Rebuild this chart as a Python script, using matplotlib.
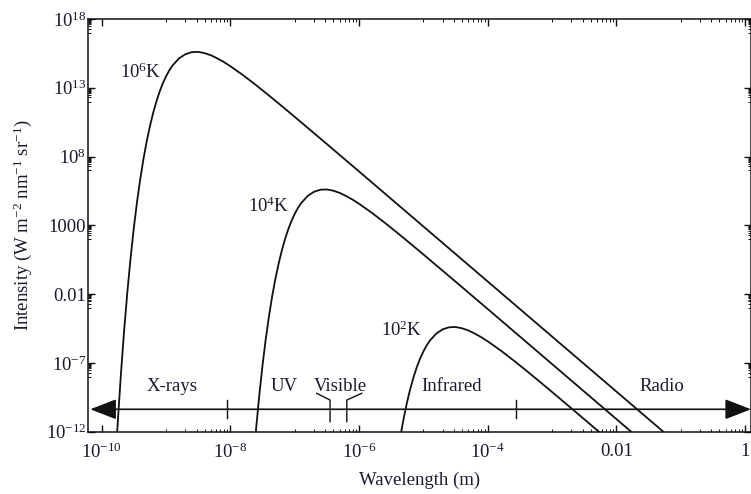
import numpy as np
import matplotlib
matplotlib.use('Agg')
import matplotlib.pyplot as plt

plt.rcParams['font.family'] = ['Liberation Serif', 'DejaVu Serif']
plt.rcParams['mathtext.fontset'] = 'custom'
plt.rcParams['mathtext.rm'] = 'Liberation Serif'
plt.rcParams['mathtext.it'] = 'Liberation Serif:italic'
plt.rcParams['mathtext.bf'] = 'Liberation Serif:bold'

TXT = '#1a1a2e'

# log10(wavelength in m) and log10(intensity)
wl_exp_1e6 = [-9.80, -9.75, -9.70, -9.65, -9.60, -9.55, -9.50, -9.45, -9.40, -9.35,
              -9.30, -9.25, -9.20, -9.15, -9.10, -9.05, -9.00, -8.95, -8.90, -8.80,
              -8.70, -8.60, -8.50, -8.40, -8.30, -8.20, -8.10, -8.00, -7.80, -7.60,
              -7.40, -7.20, -7.00, -6.50, -6.00, -5.00, -4.00, -3.00, -2.00, -1.00]
int_exp_1e6 = [-15.35, -11.31, -7.74, -4.59, -1.80, 0.66, 2.82, 4.72, 6.38, 7.84,
               9.11, 10.21, 11.17, 12.00, 12.71, 13.32, 13.83, 14.26, 14.61, 15.13,
               15.44, 15.59, 15.61, 15.52, 15.36, 15.13, 14.87, 14.57, 13.91, 13.19,
               12.44, 11.67, 10.89, 8.91, 6.92, 2.92, -1.08, -5.08, -9.08, -13.08]

wl_exp_1e4 = [-7.70, -7.65, -7.60, -7.55, -7.50, -7.45, -7.40, -7.35, -7.30, -7.25,
              -7.20, -7.15, -7.10, -7.05, -7.00, -6.95, -6.90, -6.80, -6.70, -6.60,
              -6.50, -6.40, -6.30, -6.20, -6.10, -6.00, -5.80, -5.60, -5.40, -5.20,
              -5.00, -4.50, -4.00, -3.00, -2.00, -1.00]
int_exp_1e4 = [-17.74, -14.59, -11.80, -9.34, -7.18, -5.28, -3.62, -2.16, -0.89, 0.21,
               1.17, 2.00, 2.71, 3.32, 3.83, 4.26, 4.61, 5.13, 5.44, 5.59,
               5.61, 5.52, 5.36, 5.13, 4.87, 4.57, 3.91, 3.19, 2.44, 1.67,
               0.89, -1.09, -3.08, -7.08, -11.08, -15.08]

wl_exp_1e2 = [-5.45, -5.40, -5.35, -5.30, -5.25, -5.20, -5.15, -5.10, -5.05, -5.00,
              -4.95, -4.90, -4.80, -4.70, -4.60, -4.50, -4.40, -4.30, -4.20, -4.10,
              -4.00, -3.80, -3.60, -3.40, -3.20, -3.00, -2.50, -2.00]
int_exp_1e2 = [-15.28, -13.62, -12.16, -10.89, -9.79, -8.83, -8.00, -7.29, -6.68, -6.17,
               -5.74, -5.39, -4.87, -4.56, -4.41, -4.39, -4.48, -4.64, -4.87, -5.13,
               -5.43, -6.09, -6.81, -7.56, -8.33, -9.11, -11.09, -13.08]

curve_labels = [r'$10^{6}$K', r'$10^{4}$K', r'$10^{2}$K']
curve_label_pos = [(-9.40, 14.16), (-7.41, 4.35), (-5.34, -4.61)]

x_tick_exp = [-10, -8, -6, -4, -2, 0]
x_tick_labels = [r'$10^{-10}$', r'$10^{-8}$', r'$10^{-6}$', r'$10^{-4}$', '0.01', '1']
y_tick_exp = [18, 13, 8, 3, -2, -7, -12]
y_tick_labels = [r'$10^{18}$', r'$10^{13}$', r'$10^{8}$', '1000', '0.01',
                 r'$10^{-7}$', r'$10^{-12}$']

# spectrum band annotation
band_names = ['X-rays', 'UV', 'Visible', 'Infrared', 'Radio']
band_label_exp = [-8.91, -7.17, -6.29, -4.56, -1.29]
band_edges_exp = [-8.05, -3.56]
visible_edges_exp = [-6.45, -6.19]
arrow_y_exp = -10.37

FS = 13.5

fig = plt.figure(figsize=(7.51, 4.94), dpi=100)
ax = fig.add_axes([88.3 / 751, 62.3 / 494, 662.7 / 751, 412.7 / 494])
ax.set_xscale('log')
ax.set_yscale('log')
ax.set_xlim(10 ** -10.208, 10 ** 0.093)
ax.set_ylim(1e-12, 1e18)

for wl, val in [(wl_exp_1e6, int_exp_1e6), (wl_exp_1e4, int_exp_1e4), (wl_exp_1e2, int_exp_1e2)]:
    ax.plot(np.power(10.0, wl), np.power(10.0, val), color='#111111', lw=1.3)

for lab, (lx, ly) in zip(curve_labels, curve_label_pos):
    ax.text(10 ** lx, 10 ** ly, lab, ha='center', va='center', fontsize=FS, color=TXT)

# ticks
ax.set_xticks([10.0 ** e for e in x_tick_exp])
ax.set_xticklabels(x_tick_labels)
ax.set_yticks([10.0 ** e for e in y_tick_exp])
ax.set_yticklabels(y_tick_labels)
x_minor = [m * 10.0 ** (e - 1) for e in x_tick_exp[1:] for m in range(1, 10)]
y_minor = [m * 10.0 ** (e - 1) for e in y_tick_exp[:-1] for m in range(1, 10)]
ax.xaxis.set_minor_locator(matplotlib.ticker.FixedLocator(x_minor))
ax.yaxis.set_minor_locator(matplotlib.ticker.FixedLocator(y_minor))
ax.xaxis.set_minor_formatter(matplotlib.ticker.NullFormatter())
ax.yaxis.set_minor_formatter(matplotlib.ticker.NullFormatter())
ax.tick_params(which='both', direction='in', top=True, right=True, colors='#111111',
               labelcolor=TXT, labelsize=FS)
ax.tick_params(which='major', length=5, width=1.0)
ax.tick_params(which='minor', length=2, width=0.7)
ax.tick_params(axis='x', which='major', pad=8)
ax.tick_params(axis='y', which='major', pad=1.5)
for sp in ax.spines.values():
    sp.set_linewidth(1.1)
    sp.set_color('#111111')

ax.set_xlabel('Wavelength (m)', fontsize=FS, color=TXT, labelpad=7)
ax.set_ylabel(r'Intensity (W m$^{-2}$ nm$^{-1}$ sr$^{-1}$)', fontsize=FS, color=TXT, labelpad=8)

# double-headed band arrow
ay = 10 ** arrow_y_exp
ax.annotate('', xy=(0.003, ay), xytext=(1.0, ay),
            xycoords=('axes fraction', 'data'), textcoords=('axes fraction', 'data'),
            arrowprops=dict(arrowstyle='<|-|>,head_length=0.9,head_width=0.35',
                            mutation_scale=18, lw=1.2, color='#111111',
                            shrinkA=0, shrinkB=0),
            annotation_clip=False)

for e in band_edges_exp:
    ax.plot([10 ** e, 10 ** e], [10 ** -9.70, 10 ** -11.01], color='#111111', lw=1.0)

# visible bracket
vl, vr = visible_edges_exp
ax.plot([10 ** -6.657, 10 ** vl, 10 ** vl], [10 ** -9.21, 10 ** -9.70, 10 ** -11.27],
        color='#111111', lw=1.0)
ax.plot([10 ** -5.958, 10 ** vr, 10 ** vr], [10 ** -9.21, 10 ** -9.70, 10 ** -11.27],
        color='#111111', lw=1.0)

for name, e in zip(band_names, band_label_exp):
    ax.text(10 ** e, 10 ** -8.75, name, ha='center', va='center', fontsize=FS, color=TXT)

fig.savefig('out.png', dpi=100)
